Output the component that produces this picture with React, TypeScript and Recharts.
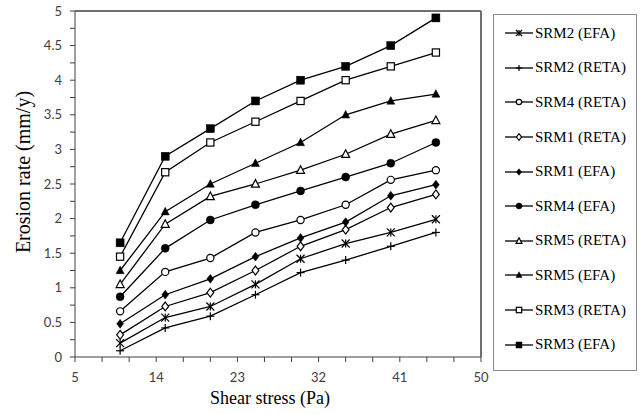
import React from 'react';
import { LineChart, Line, XAxis, YAxis, ReferenceLine, Legend, Label } from 'recharts';

const shearStress = [10, 15, 20, 25, 30, 35, 40, 45];
const srm2Efa = [0.2, 0.57, 0.73, 1.05, 1.42, 1.64, 1.8, 1.99];
const srm2Reta = [0.09, 0.42, 0.59, 0.9, 1.22, 1.4, 1.6, 1.8];
const srm4Reta = [0.66, 1.23, 1.43, 1.8, 1.98, 2.2, 2.56, 2.7];
const srm1Reta = [0.32, 0.73, 0.93, 1.25, 1.6, 1.84, 2.16, 2.35];
const srm1Efa = [0.48, 0.9, 1.13, 1.45, 1.72, 1.95, 2.33, 2.49];
const srm4Efa = [0.87, 1.57, 1.98, 2.2, 2.4, 2.6, 2.8, 3.1];
const srm5Reta = [1.05, 1.92, 2.32, 2.5, 2.7, 2.93, 3.22, 3.42];
const srm5Efa = [1.25, 2.1, 2.5, 2.8, 3.1, 3.5, 3.7, 3.8];
const srm3Reta = [1.45, 2.67, 3.1, 3.4, 3.7, 4.0, 4.2, 4.4];
const srm3Efa = [1.65, 2.9, 3.3, 3.7, 4.0, 4.2, 4.5, 4.9];

const xTicks = [5, 8, 11, 14, 17, 20, 23, 26, 29, 32, 35, 38, 41, 44, 47, 50];
const xTickLabels = [5, 14, 23, 32, 41, 50];
const yTicks = [0, 0.25, 0.5, 0.75, 1, 1.25, 1.5, 1.75, 2, 2.25, 2.5, 2.75, 3, 3.25, 3.5, 3.75, 4, 4.25, 4.5, 4.75, 5];
const yTickLabels = [0, 0.5, 1, 1.5, 2, 2.5, 3, 3.5, 4, 4.5, 5];

type Shape = 'star' | 'plus' | 'circleOpen' | 'diamondOpen' | 'diamondFilled' | 'circleFilled' | 'triOpen' | 'triFilled' | 'squareOpen' | 'squareFilled';

const series: { key: string; name: string; shape: Shape; values: number[] }[] = [
  { key: 'srm2Efa', name: 'SRM2 (EFA)', shape: 'star', values: srm2Efa },
  { key: 'srm2Reta', name: 'SRM2 (RETA)', shape: 'plus', values: srm2Reta },
  { key: 'srm4Reta', name: 'SRM4 (RETA)', shape: 'circleOpen', values: srm4Reta },
  { key: 'srm1Reta', name: 'SRM1 (RETA)', shape: 'diamondOpen', values: srm1Reta },
  { key: 'srm1Efa', name: 'SRM1 (EFA)', shape: 'diamondFilled', values: srm1Efa },
  { key: 'srm4Efa', name: 'SRM4 (EFA)', shape: 'circleFilled', values: srm4Efa },
  { key: 'srm5Reta', name: 'SRM5 (RETA)', shape: 'triOpen', values: srm5Reta },
  { key: 'srm5Efa', name: 'SRM5 (EFA)', shape: 'triFilled', values: srm5Efa },
  { key: 'srm3Reta', name: 'SRM3 (RETA)', shape: 'squareOpen', values: srm3Reta },
  { key: 'srm3Efa', name: 'SRM3 (EFA)', shape: 'squareFilled', values: srm3Efa },
];

const data = shearStress.map((x, i) => {
  const row: Record<string, number> = { x };
  series.forEach((s) => {
    row[s.key] = s.values[i];
  });
  return row;
});

function Marker({ cx, cy, shape, s }: { cx: number; cy: number; shape: Shape; s: number }) {
  if (cx == null || cy == null || isNaN(cx) || isNaN(cy)) return <g />;
  const r = s / 2;
  const sw = 1.2;
  switch (shape) {
    case 'star':
      return (
        <g stroke="#000" strokeWidth={sw}>
          <line x1={cx - r} y1={cy - r} x2={cx + r} y2={cy + r} />
          <line x1={cx - r} y1={cy + r} x2={cx + r} y2={cy - r} />
          <line x1={cx} y1={cy - r} x2={cx} y2={cy + r} />
        </g>
      );
    case 'plus':
      return (
        <g stroke="#000" strokeWidth={sw}>
          <line x1={cx - r} y1={cy} x2={cx + r} y2={cy} />
          <line x1={cx} y1={cy - r} x2={cx} y2={cy + r} />
        </g>
      );
    case 'circleOpen':
      return <circle cx={cx} cy={cy} r={r * 0.9} fill="#fff" stroke="#000" strokeWidth={sw} />;
    case 'circleFilled':
      return <circle cx={cx} cy={cy} r={r} fill="#000" stroke="#000" strokeWidth={0.5} />;
    case 'diamondOpen':
      return (
        <polygon
          points={`${cx},${cy - r * 1.1} ${cx + r * 0.85},${cy} ${cx},${cy + r * 1.1} ${cx - r * 0.85},${cy}`}
          fill="#fff"
          stroke="#000"
          strokeWidth={sw}
        />
      );
    case 'diamondFilled':
      return (
        <polygon
          points={`${cx},${cy - r * 1.1} ${cx + r * 0.85},${cy} ${cx},${cy + r * 1.1} ${cx - r * 0.85},${cy}`}
          fill="#000"
          stroke="#000"
          strokeWidth={0.5}
        />
      );
    case 'triOpen':
      return (
        <polygon
          points={`${cx},${cy - r * 1.1} ${cx + r},${cy + r * 0.8} ${cx - r},${cy + r * 0.8}`}
          fill="#fff"
          stroke="#000"
          strokeWidth={sw}
        />
      );
    case 'triFilled':
      return (
        <polygon
          points={`${cx},${cy - r * 1.1} ${cx + r},${cy + r * 0.8} ${cx - r},${cy + r * 0.8}`}
          fill="#000"
          stroke="#000"
          strokeWidth={0.5}
        />
      );
    case 'squareOpen':
      return <rect x={cx - r * 0.9} y={cy - r * 0.9} width={r * 1.8} height={r * 1.8} fill="#fff" stroke="#000" strokeWidth={sw} />;
    case 'squareFilled':
    default:
      return <rect x={cx - r} y={cy - r} width={r * 2} height={r * 2} fill="#000" stroke="#000" strokeWidth={0.5} />;
  }
}

const serif = "'Liberation Serif', 'Times New Roman', Times, Tinos, 'DejaVu Serif', 'Noto Serif', serif";
const sans = "Lato, 'Open Sans', sans-serif";

function LegendBox() {
  return (
    <div
      style={{
        width: 144,
        height: 357,
        boxSizing: 'border-box',
        border: '1px solid #8c8c8c',
        paddingTop: 1,
        background: '#fff',
      }}
    >
      {series.map((s) => (
        <div key={s.key} style={{ display: 'flex', alignItems: 'center', height: 34.6 }}>
          <svg width={30} height={14} style={{ marginLeft: 10, display: 'block' }}>
            <line x1={1} y1={7} x2={29} y2={7} stroke="#000" strokeWidth={1.3} />
            <Marker cx={15} cy={7} shape={s.shape} s={6} />
          </svg>
          <span style={{ fontFamily: serif, fontSize: 15, color: '#000', marginLeft: 1, lineHeight: '15px' }}>{s.name}</span>
        </div>
      ))}
    </div>
  );
}

export default function App() {
  return (
    <div style={{ position: 'absolute', left: 0, top: 0, width: 643, height: 414, background: '#fff' }}>
      <LineChart width={643} height={414} data={data} margin={{ top: 11, right: 162, left: 0, bottom: 0 }}>
        <XAxis
          dataKey="x"
          type="number"
          domain={[5, 50]}
          ticks={xTicks}
          interval={0}
          height={57}
          tickSize={5}
          tickMargin={11}
          stroke="#404040"
          tick={{ fill: '#404040', fontFamily: sans, fontSize: 13 }}
          tickFormatter={(v: number) => (xTickLabels.includes(v) ? String(v) : '')}
        >
          <Label
            content={(p: any) => {
              const vb = p.viewBox || { x: 75, y: 357, width: 406, height: 57 };
              const cx = vb.x + vb.width / 2 - 8;
              const cy = vb.y + 41;
              return (
                <text x={cx} y={cy} textAnchor="middle" dominantBaseline="central" style={{ fontFamily: serif }} fontSize={18} fill="#000">
                  Shear stress (Pa)
                </text>
              );
            }}
          />
        </XAxis>
        <YAxis
          type="number"
          domain={[0, 5]}
          ticks={yTicks}
          interval={0}
          width={75}
          tickSize={5}
          tickMargin={8}
          stroke="#404040"
          tick={{ fill: '#404040', fontFamily: sans, fontSize: 13 }}
          tickFormatter={(v: number) => (yTickLabels.includes(v) ? String(v) : '')}
        >
          <Label
            content={(p: any) => {
              const vb = p.viewBox || { x: 0, y: 11, width: 75, height: 346 };
              const cx = vb.x + 23;
              const cy = vb.y + vb.height / 2 - 12;
              return (
                <text
                  x={cx}
                  y={cy}
                  transform={`rotate(-90 ${cx} ${cy})`}
                  textAnchor="middle"
                  dominantBaseline="central"
                  style={{ fontFamily: serif }}
                  fontSize={20}
                  fill="#000"
                >
                  Erosion rate (mm/y)
                </text>
              );
            }}
          />
        </YAxis>
        <ReferenceLine y={5} stroke="#707070" strokeWidth={2} />
        <ReferenceLine x={50} stroke="#707070" strokeWidth={2} />
        {series.map((s) => (
          <Line
            key={s.key}
            dataKey={s.key}
            name={s.name}
            stroke="#000"
            strokeWidth={1.3}
            isAnimationActive={false}
            dot={(props: any) => <Marker key={`${s.key}-${props.index}`} cx={props.cx} cy={props.cy} shape={s.shape} s={8} />}
            activeDot={false}
          />
        ))}
        <Legend
          layout="vertical"
          align="center"
          verticalAlign="middle"
          wrapperStyle={{ position: 'absolute', left: 493, top: 14, width: 144, height: 357, margin: 0 }}
          content={() => <LegendBox />}
        />
      </LineChart>
    </div>
  );
}
